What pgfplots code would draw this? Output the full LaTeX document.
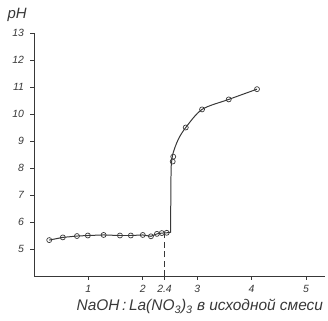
\documentclass[border=0pt]{standalone}
\usepackage{pgfplots}
\pgfplotsset{compat=1.18}
\usepackage{fontspec}
\setmainfont{Liberation Sans}
\definecolor{ink}{HTML}{383838}
\begin{document}
\begin{tikzpicture}
\useasboundingbox (-34bp,-45bp) rectangle (294bp,276bp);
\begin{axis}[
  at={(0,0)}, anchor=south west,
  scale only axis, width=291bp, height=243bp,
  xmin=0, xmax=5.35, ymin=4, ymax=13,
  axis lines=left, axis line style={-, ink, line width=1pt},
  xtick={1,2,2.4,3,4,5}, xticklabels={1,2,2.4,3,4,5},
  ytick={5,6,7,8,9,10,11,12,13},
  tick align=outside, major tick length=3.5bp,
  tick style={ink, line width=0.8pt},
  /pgf/number format/assume math mode=true,
  ticklabel style={font=\itshape\fontsize{10.5}{10.5}\selectfont, text=ink},
  yticklabel style={xshift=-3bp},
  xticklabel style={yshift=-2bp},
  xlabel={NaOH\,:\,La(NO\textsubscript{3})\textsubscript{3} в исходной смеси},
  xlabel style={font=\itshape\fontsize{15.5}{15.5}\selectfont, text=ink, at={(axis description cs:0.57,-0.125)}, anchor=center},
  ylabel={pH},
  ylabel style={rotate=-90, font=\itshape\fontsize{15}{15}\selectfont, text=ink, at={(axis description cs:-0.058,1.074)}, anchor=center},
  clip=false,
]
\addplot[ink, line width=0.9pt, dashed, dash pattern=on 6pt off 3.5pt] coordinates {(2.4,4) (2.4,5.6)};
\addplot[ink, line width=1pt] coordinates {
(0.28,5.33) (0.53,5.43) (0.79,5.48) (0.99,5.5) (1.28,5.52) (1.58,5.5) (1.78,5.5) (2.0,5.52) (2.15,5.47) (2.26,5.56) (2.35,5.59) (2.44,5.6) (2.51,5.62) (2.52,8.0)};
\addplot[ink, line width=1pt, smooth] coordinates {
(2.52,8.0) (2.55,8.5) (2.65,9.05) (2.79,9.5) (3.09,10.17) (3.58,10.54) (4.10,10.92)};
\addplot[only marks, mark=o, mark size=2.5bp, mark options={ink, fill=white, line width=0.7pt}] coordinates {
(0.28,5.33) (0.53,5.43) (0.79,5.48) (0.99,5.5) (1.28,5.52) (1.58,5.5) (1.78,5.5) (2.0,5.52) (2.15,5.47) (2.26,5.56) (2.35,5.59) (2.44,5.6)
(2.55,8.24) (2.56,8.42) (2.79,9.5) (3.09,10.17) (3.58,10.54) (4.10,10.92)};
\end{axis}
\end{tikzpicture}
\end{document}
